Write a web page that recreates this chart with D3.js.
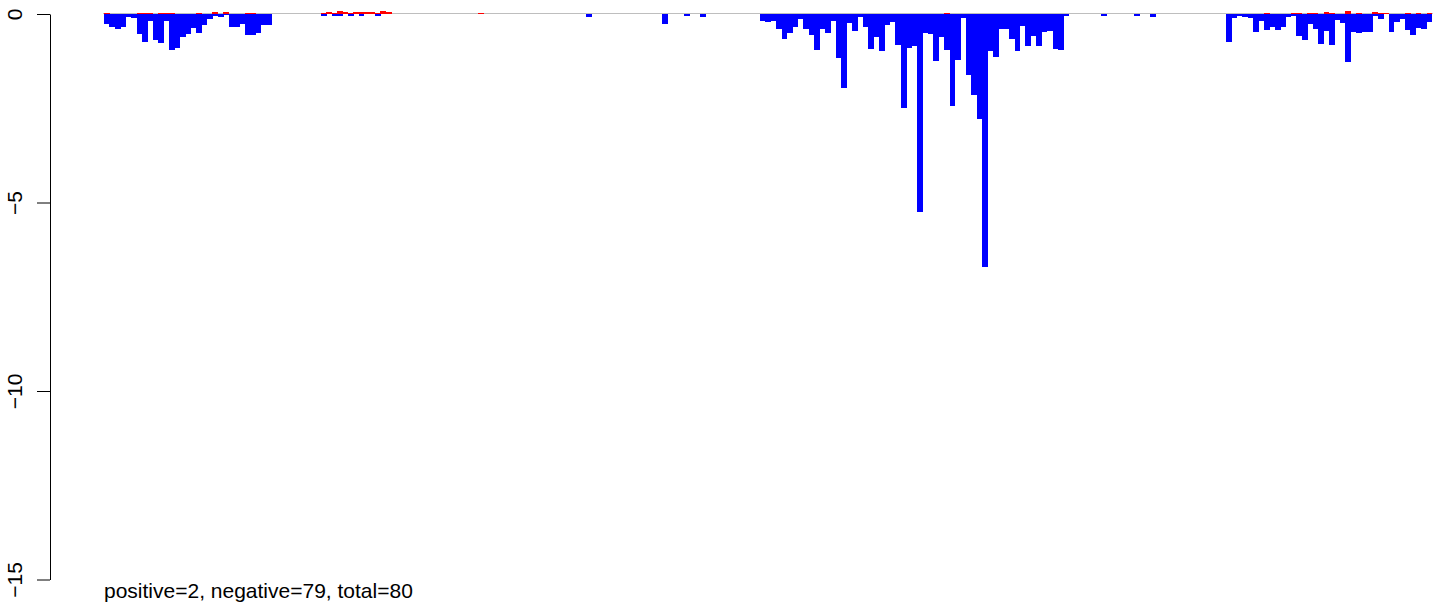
<!DOCTYPE html>
<html>
<head>
<meta charset="utf-8">
<script src="https://cdn.jsdelivr.net/npm/d3@7"></script>
<style>
  html, body { margin: 0; padding: 0; background: #ffffff; }
  svg { display: block; }
  text { font-family: "Liberation Sans", Arial, sans-serif; }
</style>
</head>
<body>
<svg id="chart" width="1433" height="603"></svg>
<script>
// ---- data ----
const slotCount = 245;

// negative (blue) values per slot, index = slot
const negValues = [
  -0.26,-0.35,-0.39,-0.35,-0.09,-0.10,-0.52,-0.74,-0.18,-0.68,
  -0.76,-0.18,-0.95,-0.90,-0.60,-0.52,-0.36,-0.50,-0.28,-0.12,
  -0.05,-0.09,-0.03,-0.35,-0.35,-0.26,-0.55,-0.55,-0.50,-0.28,
  -0.28,0,0,0,0,0,0,0,0,0,
  -0.04,0,-0.04,-0.04,0,-0.04,0,-0.04,0,0,
  -0.04,0,0,0,0,0,0,0,0,0,
  0,0,0,0,0,0,0,0,0,0,
  0,0,0,0,0,0,0,0,0,0,
  0,0,0,0,0,0,0,0,0,-0.08,
  0,0,0,0,0,0,0,0,0,0,
  0,0,0,-0.27,0,0,0,-0.05,0,0,
  -0.08,0,0,0,0,0,0,0,0,0,
  0,-0.18,-0.21,-0.18,-0.39,-0.66,-0.50,-0.34,-0.12,-0.39,
  -0.55,-0.95,-0.39,-0.50,-0.18,-1.16,-1.97,-0.23,-0.44,-0.07,
  -0.34,-0.92,-0.60,-0.98,-0.28,-0.21,-0.82,-2.49,-0.90,-0.85,
  -5.25,-0.50,-0.52,-1.24,-0.60,-0.95,-2.45,-1.23,-0.11,-1.61,
  -2.15,-2.78,-6.71,-0.98,-1.13,-0.39,-0.39,-0.66,-0.98,-0.31,
  -0.84,-0.59,-0.84,-0.47,-0.45,-0.92,-0.95,-0.04,0,0,
  0,0,0,0,-0.04,0,0,0,0,0,
  -0.04,0,0,-0.07,0,0,0,0,0,0,
  0,0,0,0,0,0,0,-0.74,-0.10,-0.05,
  -0.08,-0.11,-0.47,-0.18,-0.42,-0.34,-0.42,-0.34,-0.07,-0.04,
  -0.58,-0.68,-0.26,-0.39,-0.79,-0.44,-0.82,-0.15,-0.23,-1.27,
  -0.47,-0.50,-0.47,-0.47,-0.04,-0.12,0,-0.47,-0.20,-0.12,
  -0.42,-0.55,-0.36,-0.39,-0.20
];

// positive (red) values: [slot, value]
const posSlots  = [0, 6, 7, 8, 10, 11, 12, 17, 20, 22, 26, 27,
                   40, 41, 42, 43, 44, 45, 46, 47, 48, 49, 50, 51, 52,
                   69, 155, 214, 219, 220, 222, 223, 225, 226, 229, 231,
                   234, 235, 236, 240, 242, 244];
const posValues = [0.03, 0.03, 0.03, 0.03, 0.03, 0.03, 0.03, 0.03, 0.05, 0.04, 0.03, 0.03,
                   0.03, 0.06, 0.03, 0.08, 0.05, 0.03, 0.05, 0.05, 0.05, 0.05, 0.03, 0.08, 0.06,
                   0.03, 0.03, 0.03, 0.03, 0.03, 0.03, 0.03, 0.06, 0.03, 0.08, 0.03,
                   0.05, 0.03, 0.03, 0.03, 0.03, 0.03];

const yTicks = [0, -5, -10, -15];
const noteText = "positive=2, negative=79, total=80";

// ---- drawing ----
const svg = d3.select("#chart");
const slots = d3.range(slotCount);

const x = d3.scaleBand().domain(slots).range([104, 1432]).padding(0);
const y = d3.scaleLinear().domain([-15, 0]).range([579.5, 14]);

// zero reference line (gray)
svg.append("line")
  .attr("x1", 103).attr("x2", 1433)
  .attr("y1", y(0) - 0.5).attr("y2", y(0) - 0.5)
  .attr("stroke", "#BEBEBE").attr("stroke-width", 1);

// negative bars
svg.append("g")
  .attr("shape-rendering", "crispEdges")
  .selectAll("rect")
  .data(negValues.map((v, i) => ({ slot: i, v })).filter(d => d.v < 0))
  .join("rect")
  .attr("x", d => x(d.slot))
  .attr("width", x.bandwidth() + 0.3)
  .attr("y", y(0))
  .attr("height", d => y(d.v) - y(0))
  .attr("fill", "#0000FF");

// positive bars
svg.append("g")
  .attr("shape-rendering", "crispEdges")
  .selectAll("rect")
  .data(posSlots.map((s, i) => ({ slot: s, v: posValues[i] })))
  .join("rect")
  .attr("x", d => x(d.slot))
  .attr("width", x.bandwidth() + 0.3)
  .attr("y", d => y(d.v))
  .attr("height", d => y(0) - y(d.v))
  .attr("fill", "#FF0000");

// y axis
const axis = d3.axisLeft(y).tickValues(yTicks).tickSize(13).tickSizeOuter(0)
  .tickFormat(d3.format("d"));
const gAxis = svg.append("g").attr("transform", "translate(50,0)").call(axis);
gAxis.select(".domain").attr("stroke", "#000").attr("stroke-width", 1);
gAxis.selectAll(".tick line").attr("stroke", "#000").attr("stroke-width", 1);
gAxis.selectAll(".tick text")
  .attr("font-size", 21)
  .attr("fill", "#000")
  .attr("text-anchor", "middle")
  .attr("x", null).attr("dy", null)
  .attr("transform", "translate(-28,0) rotate(-90)");

// note text
svg.append("text")
  .attr("x", 104).attr("y", 598)
  .attr("font-size", 21)
  .attr("fill", "#000")
  .text(noteText);
</script>
</body>
</html>
